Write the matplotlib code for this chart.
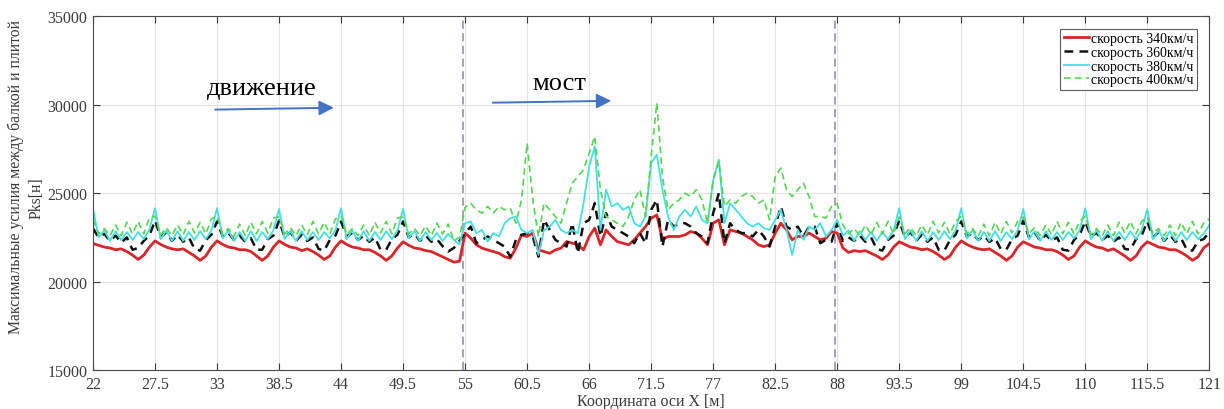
import numpy as np
import matplotlib
matplotlib.use("Agg")
import matplotlib.pyplot as plt

# ---------------- data ----------------
x_start, x_end, x_step = 22.0, 121.0, 0.5
x_ticks = [22, 27.5, 33, 38.5, 44, 49.5, 55, 60.5, 66, 71.5, 77, 82.5, 88, 93.5, 99, 104.5, 110, 115.5, 121]
y_ticks = [15000, 20000, 25000, 30000, 35000]
bridge_bounds = [55, 88]
labels = ["скорость 340км/ч", "скорость 360км/ч", "скорость 380км/ч", "скорость 400км/ч"]

# approach (22 - 54.5 m)
v340_left = [22150, 22050, 21950, 21900, 21800, 21850, 21700, 21500, 21250, 21500, 21950,
             22300, 22100, 21950, 21850, 21800, 21850, 21650, 21450, 21200, 21450, 21950,
             22300, 22100, 21950, 21900, 21800, 21800, 21700, 21450, 21200, 21450, 21950,
             22300, 22100, 21950, 21900, 21750, 21850, 21700, 21500, 21250, 21450, 21950,
             22300, 22100, 21950, 21900, 21800, 21800, 21650, 21450, 21200, 21450, 21900,
             22250, 22050, 21900, 21850, 21750, 21700, 21550, 21400, 21250, 21100, 21150]
v360_left = [23000, 22500, 22700, 22300, 22600, 22200, 22500, 21800, 21900, 22300, 22600,
             23450, 22500, 22800, 22300, 22650, 22250, 22500, 21850, 21750, 22350, 22650,
             23400, 22550, 22750, 22350, 22600, 22250, 22450, 21800, 21800, 22400, 22600,
             23450, 22500, 22800, 22300, 22650, 22300, 22500, 21850, 21750, 22350, 22600,
             23400, 22550, 22750, 22350, 22600, 22250, 22500, 21800, 21800, 22400, 22650,
             23400, 22500, 22700, 22300, 22600, 22250, 22400, 22000, 21700, 21900, 22300]
v380_left = [24100, 22500, 22900, 22300, 22850, 22350, 22800, 22350, 22800, 22400, 22950,
             24150, 22400, 22900, 22300, 22850, 22300, 22800, 22350, 22850, 22400, 22900,
             24150, 22450, 22900, 22300, 22800, 22300, 22850, 22300, 22800, 22400, 22900,
             24100, 22400, 22850, 22300, 22850, 22350, 22800, 22350, 22800, 22450, 22900,
             24150, 22400, 22900, 22300, 22850, 22300, 22800, 22350, 22850, 22400, 22900,
             24100, 22450, 22850, 22300, 22800, 22350, 22750, 22300, 22700, 22350, 22100]
v400_left = [23500, 22700, 23000, 22600, 23200, 22600, 23350, 22700, 23400, 22700, 23600,
             23700, 22650, 23050, 22600, 23200, 22650, 23400, 22750, 23350, 22700, 23550,
             23700, 22700, 23000, 22550, 23250, 22600, 23350, 22700, 23400, 22750, 23600,
             23650, 22700, 23050, 22600, 23200, 22650, 23400, 22700, 23350, 22700, 23550,
             23700, 22650, 23000, 22600, 23200, 22600, 23350, 22750, 23400, 22700, 23600,
             23650, 22700, 23000, 22600, 23150, 22600, 23300, 22700, 23250, 22300, 22500]

# bridge (55 - 88 m)
v340_bridge = [22740, 22450, 22080, 21890, 21790, 21700, 21600, 21410, 21320, 21890,
               22640, 22550, 22740, 21790, 21700, 21600, 21790, 21890, 22260, 22170,
               22080, 21790, 22550, 23020, 22080, 22920, 22550, 22260, 22170, 22080,
               22360, 22740, 23110, 23580, 23770, 22360, 22550, 22550, 22550, 22640,
               22830, 22740, 22450, 22080, 23300, 23490, 22080, 22920, 22830, 22740,
               22550, 22360, 22080, 21980, 22080, 22740, 23300, 22920, 22360, 22550,
               22550, 22740, 22550, 22360, 22450, 22830, 22740]
v360_bridge = [22740, 23110, 22170, 22360, 22550, 22360, 22170, 21980, 21410, 22360,
               22640, 22740, 22550, 21410, 23490, 22920, 22360, 22170, 21980, 23300,
               21600, 23300, 23490, 24430, 22550, 23870, 23110, 22920, 22740, 22550,
               22170, 22740, 22170, 24060, 24620, 21980, 23490, 23110, 23300, 23300,
               23110, 22740, 22550, 22170, 23870, 25000, 22170, 23300, 22920, 22740,
               22740, 22550, 22920, 22550, 21980, 23110, 24250, 23110, 22920, 23110,
               22550, 23110, 23110, 22170, 22360, 22260, 23300]
v380_bridge = [23300, 23400, 22740, 22920, 22260, 22740, 22550, 23300, 23580, 23680,
               22920, 22740, 22920, 21510, 22920, 23110, 23490, 22920, 22740, 22920,
               22740, 24430, 26510, 27640, 22920, 25190, 24250, 24430, 24060, 24250,
               23300, 23110, 23680, 26700, 27170, 25190, 23680, 22920, 23680, 24060,
               23680, 24250, 23490, 23300, 25750, 26890, 23300, 24430, 24060, 23680,
               23300, 23110, 23300, 23020, 22920, 23490, 24060, 22920, 21510, 22920,
               22360, 23110, 22920, 23300, 22550, 22920, 23490]
v400_bridge = [24200, 24430, 24060, 23870, 24250, 23870, 24250, 24060, 24150, 23300,
               24620, 27830, 24620, 22550, 24430, 24060, 23680, 23300, 24430, 25570,
               25940, 26320, 27260, 28200, 25190, 23680, 23490, 23300, 23110, 23680,
               24620, 25190, 23680, 27080, 30100, 25940, 24060, 24430, 24620, 25000,
               24810, 25190, 24620, 23300, 25750, 26790, 24250, 24620, 24430, 24810,
               25000, 24810, 24430, 24620, 23490, 25940, 26420, 25190, 24810, 25190,
               25570, 24810, 23680, 23680, 23590, 24250, 24400]

# approach (88.5 - 121 m)
v340_right = [21900, 21650, 21750, 21700, 21750, 21600, 21450, 21250, 21500, 21950, 22250,
              22100, 21950, 21900, 21800, 21850, 21700, 21500, 21250, 21450, 21950, 22300,
              22100, 21950, 21850, 21800, 21850, 21650, 21450, 21200, 21450, 21950, 22250,
              22100, 21950, 21900, 21800, 21800, 21700, 21500, 21250, 21450, 21950, 22300,
              22100, 21950, 21900, 21750, 21850, 21650, 21450, 21200, 21450, 21950, 22250,
              22100, 21950, 21900, 21800, 21800, 21650, 21450, 21200, 21400, 21900, 22150]
v360_right = [22300, 22500, 22300, 22600, 22250, 22500, 21850, 21750, 22350, 22600, 23450,
              22500, 22800, 22300, 22650, 22250, 22500, 21800, 21750, 22350, 22650, 23400,
              22550, 22750, 22350, 22600, 22250, 22450, 21850, 21800, 22400, 22600, 23450,
              22500, 22800, 22300, 22650, 22300, 22500, 21800, 21750, 22350, 22650, 23400,
              22550, 22750, 22350, 22600, 22250, 22500, 21850, 21800, 22400, 22600, 23400,
              22500, 22800, 22300, 22650, 22250, 22450, 21800, 21750, 22300, 22400, 22800]
v380_right = [22600, 22900, 22300, 22850, 22350, 22800, 22300, 22800, 22400, 22900, 24150,
              22400, 22900, 22300, 22850, 22300, 22800, 22350, 22850, 22400, 22900, 24150,
              22450, 22900, 22300, 22800, 22300, 22850, 22300, 22800, 22400, 22900, 24100,
              22400, 22850, 22300, 22850, 22350, 22800, 22350, 22800, 22450, 22900, 24150,
              22400, 22900, 22300, 22850, 22300, 22800, 22350, 22850, 22400, 22900, 24100,
              22400, 22900, 22300, 22850, 22300, 22800, 22350, 22800, 22400, 22700, 23200]
v400_right = [23200, 22700, 23000, 22600, 23200, 22650, 23350, 22700, 23400, 22700, 23650,
              22700, 23050, 22600, 23200, 22650, 23400, 22750, 23350, 22700, 23400, 23700,
              22700, 23000, 22550, 23250, 22600, 23350, 22700, 23400, 22750, 23400, 23650,
              22700, 23050, 22600, 23200, 22650, 23400, 22700, 23350, 22700, 23400, 23700,
              22650, 23000, 22600, 23200, 22600, 23350, 22750, 23400, 22700, 23400, 23650,
              22700, 23000, 22600, 23200, 22600, 23350, 22700, 23400, 22700, 23300, 23550]

# ---------------- figure ----------------
plt.rcParams['font.family'] = ['Liberation Serif', 'DejaVu Serif']

x = np.arange(x_start, x_end + x_step / 2, x_step)
series = [
    (v340_left + v340_bridge + v340_right, dict(color='#d8262b', lw=2.0, ls='-')),
    (v360_left + v360_bridge + v360_right, dict(color='#111111', lw=1.8, ls=(0, (3.5, 2.5)))),
    (v380_left + v380_bridge + v380_right, dict(color='#44e0df', lw=1.3, ls='-')),
    (v400_left + v400_bridge + v400_right, dict(color='#55d455', lw=1.2, ls=(0, (4, 2.5)))),
]

fig = plt.figure(figsize=(12.24, 4.10), dpi=100)
ax = fig.add_axes([0.076, 0.095, 0.912, 0.863])

for (vals, style), lab in zip(series, labels):
    ax.plot(x, vals, label=lab, **style)

for b in bridge_bounds:
    ax.axvline(b - 0.2, color='#9a9ab4', lw=1.3, ls=(0, (4.5, 2.5)), zorder=1)

ax.set_xlim(x_start, x_end)
ax.set_ylim(y_ticks[0], y_ticks[-1])
ax.set_xticks(x_ticks)
ax.set_xticklabels([f"{t:g}" for t in x_ticks])
ax.set_yticks(y_ticks)
ax.grid(True, color='#e3e3e3', lw=0.8, zorder=0)
ax.set_axisbelow(True)
ax.tick_params(direction='in', top=True, right=True, length=5, width=0.8,
               labelsize=11.5, colors='#3a3a3a', labelcolor='#3a3a3a', pad=4)
for s in ax.spines.values():
    s.set_color('#4a4a4a')
    s.set_linewidth(0.8)

ax.set_xlabel("Координата оси X [м]", fontsize=11.5, color='#3a3a3a', labelpad=1)
fig.text(16 / 1224, 1 - 177 / 410, "Максимальные усилия между балкой и плитой",
         rotation=90, fontsize=11.3, color='#3a3a3a', ha='center', va='center')
fig.text(37 / 1224, 1 - 198 / 410, "Pks[н]",
         rotation=90, fontsize=11.3, color='#3a3a3a', ha='center', va='center')

leg = ax.legend(loc='upper right', fontsize=10, frameon=True, fancybox=False,
                edgecolor='#333333', handlelength=1.8, labelspacing=0.05,
                borderpad=0.25, borderaxespad=0.9, handletextpad=0.15)
leg.get_frame().set_linewidth(0.8)

# annotations
arrow_color = '#4472c4'
ax.text(37.0, 30950, "движение", fontsize=19, ha='center', va='center', color='black')
ax.annotate("", xy=(43.6, 29830), xytext=(32.6, 29720),
            arrowprops=dict(arrowstyle='-|>', color=arrow_color, lw=1.4, mutation_scale=22))
ax.text(63.4, 31250, "мост", fontsize=19, ha='center', va='center', color='black')
ax.annotate("", xy=(68.2, 30220), xytext=(57.2, 30110),
            arrowprops=dict(arrowstyle='-|>', color=arrow_color, lw=1.4, mutation_scale=22))

fig.savefig("out.png", dpi=100)
